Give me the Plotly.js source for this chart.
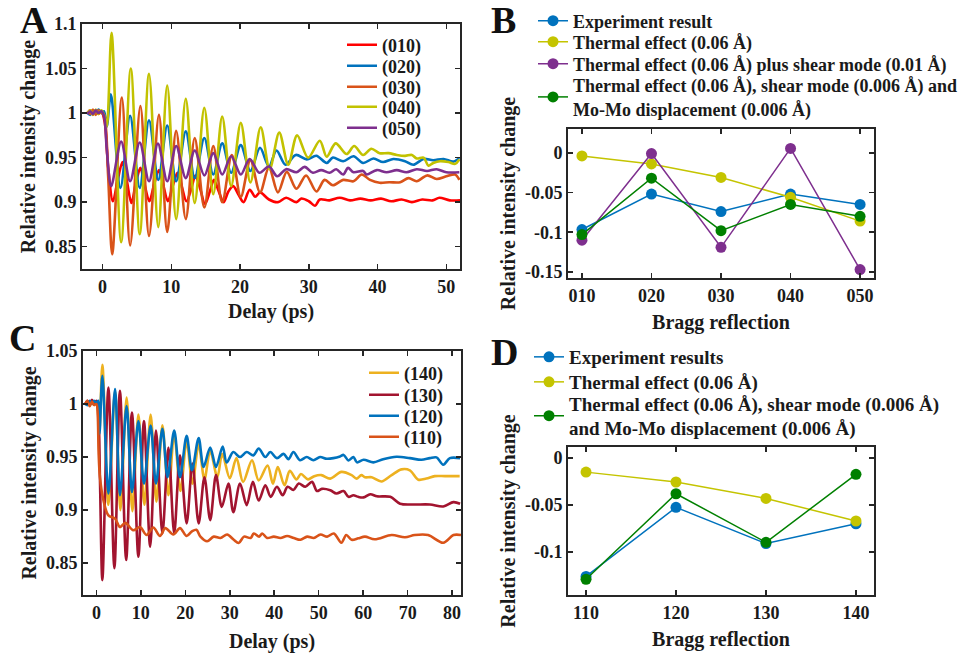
<!DOCTYPE html>
<html><head><meta charset="utf-8">
<script src="https://cdn.plot.ly/plotly-3.0.1.min.js"></script>
<style>html,body{margin:0;padding:0;background:#fff}#chart{width:960px;height:657px}</style>
</head><body><div id="chart"></div>
<script>
// ---------- Panel A: time traces [delay ps, relative intensity] ----------
const a010 = [[-2.2,1.000],[-1.8,1.003],[-1.4,0.998],[-1.0,1.003],[-0.6,0.999],[-0.2,1.002],[0.3,0.99],[0.8,0.94],[1.5,0.901],[2.2,0.925],[2.9,0.945],[3.5,0.925],[4.2,0.899],[4.8,0.92],[5.5,0.9385],[6.1,0.92],[6.8,0.901],[7.5,0.92],[8.2,0.936],[8.8,0.92],[9.5,0.901],[10.2,0.918],[10.9,0.933],[11.5,0.918],[12.2,0.901],[12.9,0.915],[13.5,0.93],[14.2,0.915],[14.9,0.898],[15.6,0.912],[16.2,0.925],[16.9,0.912],[17.6,0.9],[18.3,0.912],[19.0,0.918],[19.8,0.908],[20.5,0.9],[21.4,0.914],[22.2,0.906],[22.9,0.911],[24.2,0.903],[25.5,0.9],[26.7,0.905],[28.2,0.9],[28.9,0.904],[30.0,0.901],[30.9,0.896],[31.6,0.903],[33.0,0.902],[34.5,0.905],[36.0,0.902],[37.5,0.904],[39.0,0.902],[40.5,0.904],[42.0,0.901],[43.5,0.903],[45.0,0.900],[46.5,0.903],[48.0,0.902],[49.0,0.905],[50.5,0.902],[52.0,0.902]];
const a020 = [[-2.2,1.0],[-1.8,0.998],[-1.4,1.003],[-1.0,0.999],[-0.6,1.004],[-0.2,1.0],[0.2,1.002],[0.6,0.985],[1.2,1.021],[2.6,0.916],[4.0,0.997],[5.4,0.916],[6.75,0.992],[8.1,0.925],[9.4,0.986],[10.7,0.9235],[12.1,0.9795],[13.4,0.927],[14.8,0.972],[16.1,0.931],[17.4,0.966],[18.7,0.933],[20.1,0.964],[21.5,0.935],[22.9,0.961],[24.2,0.940],[25.3,0.958],[26.6,0.942],[28.1,0.953],[29.7,0.948],[31.1,0.952],[32.6,0.944],[33.5,0.950],[35.0,0.946],[36.5,0.9515],[37.9,0.944],[39.4,0.949],[40.8,0.945],[42.3,0.9485],[44.0,0.946],[45.2,0.942],[46.7,0.9485],[48.1,0.947],[49.6,0.9485],[51.0,0.9455],[51.9,0.9497]];
const a030 = [[-2.2,1.002],[-1.8,0.999],[-1.4,1.004],[-1.0,0.998],[-0.6,1.003],[-0.2,1.0],[0.2,0.998],[0.8,0.93],[1.4,0.8415],[2.8,1.0175],[4.0,0.8515],[5.5,1.008],[6.75,0.862],[8.2,0.998],[9.4,0.8665],[10.7,0.980],[12.1,0.881],[13.4,0.972],[14.8,0.894],[16.1,0.963],[17.4,0.900],[18.8,0.953],[20.1,0.906],[21.5,0.947],[22.9,0.911],[24.2,0.939],[25.5,0.911],[26.8,0.934],[28.2,0.915],[29.6,0.930],[31.1,0.912],[32.3,0.925],[33.5,0.919],[35.0,0.925],[36.5,0.9235],[37.7,0.931],[38.9,0.925],[40.3,0.9217],[41.7,0.9224],[43.3,0.9224],[44.5,0.927],[45.7,0.9235],[47.2,0.930],[48.6,0.926],[50.0,0.929],[51.3,0.931],[51.9,0.925]];
const a040 = [[-2.2,1.000],[-1.8,1.003],[-1.4,0.998],[-1.0,1.004],[-0.6,0.999],[-0.2,1.003],[0.2,0.998],[0.6,0.985],[1.3,1.090],[2.7,0.855],[4.1,1.050],[5.4,0.864],[6.75,1.044],[8.1,0.872],[9.4,1.031],[10.7,0.881],[12.1,1.016],[13.4,0.899],[14.8,1.006],[16.1,0.909],[17.4,0.996],[18.7,0.918],[20.1,0.989],[21.5,0.922],[23.0,0.984],[24.3,0.937],[25.7,0.978],[27.0,0.942],[28.3,0.975],[29.9,0.950],[31.6,0.969],[32.6,0.951],[33.9,0.966],[35.5,0.954],[36.6,0.963],[37.9,0.953],[39.1,0.960],[40.3,0.955],[41.6,0.955],[42.8,0.953],[44.0,0.952],[45.0,0.953],[45.7,0.949],[46.7,0.950],[47.4,0.941],[48.1,0.944],[49.1,0.946],[50.3,0.945],[51.3,0.943],[51.9,0.948]];
const a050 = [[-2.2,0.999],[-1.8,1.002],[-1.4,0.999],[-1.0,1.003],[-0.6,1.0],[-0.2,1.002],[0.2,0.997],[0.6,0.96],[1.25,0.918],[2.7,0.968],[4.0,0.9235],[5.4,0.967],[6.75,0.9235],[8.05,0.9657],[9.4,0.9235],[10.7,0.963],[12.1,0.927],[13.4,0.958],[14.8,0.930],[16.1,0.955],[17.4,0.931],[18.7,0.9515],[20.1,0.931],[21.4,0.9485],[22.8,0.933],[24.2,0.940],[25.4,0.929],[26.7,0.937],[28.2,0.9336],[29.4,0.9396],[30.6,0.933],[31.8,0.936],[33.0,0.933],[34.0,0.937],[35.0,0.931],[35.7,0.9385],[36.5,0.9336],[37.9,0.935],[38.4,0.931],[39.9,0.936],[41.3,0.9336],[42.8,0.936],[44.2,0.9336],[45.7,0.937],[47.2,0.935],[48.6,0.937],[50.0,0.9336],[51.9,0.9336]];
const aNames = ['(010)','(020)','(030)','(040)','(050)'];

// ---------- Panel C: time traces ----------
const c140 = [[-2.5,1.0],[-2.0,1.002],[-1.5,0.999],[-1.0,1.003],[-0.5,1.0],[0.0,1.002],[0.4,0.998],[0.7,0.975],[1.35,1.037],[2.7,0.905],[4.2,1.012],[5.4,0.900],[6.8,1.006],[8.1,0.899],[9.45,0.990],[10.8,0.905],[12.2,0.990],[13.5,0.908],[14.85,0.980],[16.2,0.914],[17.5,0.972],[18.9,0.918],[20.3,0.965],[21.6,0.925],[23.0,0.962],[24.3,0.929],[25.6,0.956],[27.2,0.931],[28.3,0.953],[30.0,0.930],[31.5,0.949],[33.0,0.9265],[35.0,0.947],[36.5,0.928],[38.5,0.942],[39.7,0.925],[40.8,0.9405],[42.3,0.9234],[43.5,0.937],[45.0,0.929],[46.0,0.934],[47.6,0.929],[49.0,0.932],[50.6,0.933],[52.6,0.9297],[55.1,0.936],[57.4,0.933],[58.5,0.9297],[59.6,0.933],[60.4,0.931],[61.9,0.931],[64.1,0.927],[66.4,0.933],[68.6,0.9384],[70.5,0.9375],[72.4,0.9287],[74.2,0.9297],[76.1,0.932],[78.4,0.932],[81.7,0.932]];
const c130 = [[-2.5,1.0],[-2.0,1.003],[-1.5,0.999],[-1.0,1.004],[-0.5,1.0],[0.0,1.003],[0.4,0.995],[0.8,0.93],[1.35,0.834],[2.7,1.0156],[4.05,0.8453],[5.3,1.0125],[6.7,0.853],[8.0,0.992],[9.45,0.856],[10.7,0.984],[12.1,0.8656],[13.4,0.975],[14.85,0.878],[16.2,0.959],[17.5,0.878],[18.8,0.9516],[20.3,0.8875],[21.6,0.944],[23.0,0.8875],[24.3,0.931],[25.6,0.8906],[26.9,0.933],[28.2,0.903],[29.7,0.925],[30.8,0.898],[32.3,0.925],[33.8,0.9047],[35.2,0.9266],[36.5,0.909],[38.0,0.9234],[39.2,0.9125],[40.6,0.922],[41.9,0.914],[43.0,0.922],[44.3,0.919],[45.5,0.925],[47.0,0.922],[48.5,0.9266],[49.6,0.918],[50.7,0.92],[52.6,0.9187],[54.0,0.9156],[55.6,0.918],[56.7,0.9125],[57.8,0.914],[58.9,0.9125],[60.1,0.912],[61.6,0.915],[63.1,0.913],[66.1,0.9125],[68.3,0.906],[71.3,0.9053],[75.0,0.9053],[78.0,0.9034],[80.3,0.9075],[81.8,0.906]];
const c120 = [[-2.5,1.0],[-2.0,0.999],[-1.5,1.003],[-1.0,1.0],[-0.5,1.003],[0.0,1.001],[0.4,1.003],[0.7,0.972],[1.35,1.0266],[2.7,0.9156],[4.2,1.014],[5.3,0.914],[6.8,0.998],[8.0,0.917],[9.45,0.984],[10.7,0.925],[12.2,0.9797],[13.4,0.925],[14.85,0.9766],[16.0,0.931],[17.5,0.975],[18.8,0.931],[20.3,0.970],[21.5,0.9375],[23.0,0.968],[24.1,0.9406],[25.6,0.959],[26.9,0.9406],[28.4,0.960],[29.3,0.945],[30.8,0.9547],[32.3,0.950],[33.8,0.9547],[35.3,0.9516],[36.5,0.958],[38.0,0.950],[39.1,0.9547],[40.6,0.949],[42.1,0.953],[43.2,0.948],[44.3,0.9547],[45.8,0.947],[47.3,0.950],[48.8,0.947],[50.3,0.950],[51.8,0.9484],[53.3,0.949],[54.8,0.9506],[55.6,0.952],[56.7,0.9468],[57.8,0.950],[58.6,0.945],[60.1,0.9474],[62.3,0.945],[64.5,0.948],[67.5,0.9503],[70.5,0.949],[73.1,0.9474],[75.0,0.949],[76.5,0.9497],[78.0,0.9428],[79.5,0.949],[81.8,0.949]];
const c110 = [[-2.5,1.0],[-2.0,1.003],[-1.5,0.998],[-1.0,1.002],[-0.5,0.999],[0.0,1.0],[0.3,0.99],[0.5,0.955],[0.8,0.931],[1.6,0.909],[2.7,0.895],[4.2,0.892],[5.3,0.884],[6.5,0.888],[8.3,0.881],[9.8,0.884],[11.3,0.8765],[12.8,0.8836],[14.3,0.8756],[15.5,0.883],[17.3,0.877],[18.8,0.883],[20.3,0.8756],[21.5,0.880],[22.5,0.8815],[23.4,0.875],[24.9,0.8706],[26.4,0.875],[27.9,0.8737],[29.4,0.877],[30.9,0.872],[32.0,0.869],[33.2,0.875],[34.7,0.8737],[35.4,0.878],[36.6,0.875],[37.3,0.878],[38.4,0.8737],[39.9,0.875],[41.4,0.8737],[42.9,0.8756],[44.4,0.8737],[45.9,0.872],[47.4,0.875],[48.9,0.8737],[50.4,0.877],[51.9,0.875],[53.4,0.878],[55.1,0.8692],[56.2,0.8765],[57.4,0.872],[58.9,0.8734],[60.4,0.875],[62.6,0.8725],[66.4,0.8765],[69.4,0.8744],[71.6,0.8765],[74.6,0.8765],[78.0,0.8692],[80.3,0.8765],[82.0,0.8765]];
const cNames = ['(140)','(130)','(120)','(110)'];

// ---------- Panel B ----------
const bCats = ['010','020','030','040','050'];
const bExp = [-0.0966,-0.052,-0.074,-0.052,-0.065];
const bThermal = [-0.004,-0.014,-0.031,-0.056,-0.086];
const bShear = [-0.110,-0.001,-0.119,0.0055,-0.147];
const bFull = [-0.103,-0.032,-0.098,-0.065,-0.080];
const bNames = ['Experiment result','Thermal effect (0.06 Å)','Thermal effect (0.06 Å) plus shear mode (0.01 Å)','Thermal effect (0.06 Å), shear mode (0.006 Å) and<br>Mo-Mo displacement (0.006 Å)'];

// ---------- Panel D ----------
const dCats = ['110','120','130','140'];
const dExp = [-0.126,-0.0525,-0.091,-0.070];
const dThermal = [-0.015,-0.0255,-0.043,-0.067];
const dFull = [-0.129,-0.038,-0.0897,-0.0174];
const dNames = ['Experiment results','Thermal effect (0.06 Å)','Thermal effect (0.06 Å), shear mode (0.006 Å)<br>and Mo-Mo displacement (0.006 Å)'];

const FONT = 'Liberation Serif, Times New Roman, serif';
const INK = '#1a1a1a';
let legN = 0;
const nextLeg = () => { legN += 1; return legN === 1 ? 'legend' : 'legend' + legN; };
const line = (pairs, name, color, xa, ya) => ({
  type:'scatter', mode:'lines', name, x: pairs.map(p=>p[0]), y: pairs.map(p=>p[1]),
  xaxis:xa, yaxis:ya, legend:nextLeg(), line:{color, width:2.6, shape:'spline', smoothing:0.9}
});
const pts = (cats, vals, name, color, xa, ya) => ({
  type:'scatter', mode:'lines+markers', name, x:cats, y:vals, xaxis:xa, yaxis:ya, legend:nextLeg(),
  line:{color, width:1.5}, marker:{color, size:11}
});

const data = [
  line(a010, aNames[0], '#FF0000', 'x', 'y'),
  line(a020, aNames[1], '#0072BD', 'x', 'y'),
  line(a030, aNames[2], '#D95319', 'x', 'y'),
  line(a040, aNames[3], '#C2C200', 'x', 'y'),
  line(a050, aNames[4], '#7E2F8E', 'x', 'y'),
  pts(bCats, bExp, bNames[0], '#0072BD', 'x2', 'y2'),
  pts(bCats, bThermal, bNames[1], '#C4C400', 'x2', 'y2'),
  pts(bCats, bShear, bNames[2], '#7E2F8E', 'x2', 'y2'),
  pts(bCats, bFull, bNames[3], '#008000', 'x2', 'y2'),
  line(c140, cNames[0], '#EDB120', 'x3', 'y3'),
  line(c130, cNames[1], '#A2142F', 'x3', 'y3'),
  line(c120, cNames[2], '#0072BD', 'x3', 'y3'),
  line(c110, cNames[3], '#D95319', 'x3', 'y3'),
  pts(dCats, dExp, dNames[0], '#0072BD', 'x4', 'y4'),
  pts(dCats, dThermal, dNames[1], '#C4C400', 'x4', 'y4'),
  pts(dCats, dFull, dNames[2], '#008000', 'x4', 'y4')
];

const tf = {family:FONT, size:18, color:INK, weight:700};
const ttl = {family:FONT, size:20, color:INK, weight:700};
const ax = (o) => Object.assign({
  showline:true, mirror:'allticks', linecolor:'#262626', linewidth:2,
  ticks:'inside', ticklen:5, tickwidth:1.5, tickcolor:'#262626',
  showgrid:false, zeroline:false, tickfont:tf, fixedrange:true, automargin:false
}, o);
const legAt = (xpx, ypx, size) => ({x:xpx/960, y:1-ypx/657, xref:'paper', yref:'paper', xanchor:'left', yanchor:'middle',
  bgcolor:'rgba(255,255,255,0)', borderwidth:0, font:{family:FONT, size, color:INK, weight:700},
  tracegroupgap:0, itemwidth:30});

// legend placements (pixel x of item start, pixel y of row centre)
const legendSpots = [
  [342,45,18],[342,66,18],[342,87,18],[342,107,18],[342,128,18],
  [533,21,18],[533,42,18],[533,64,18],[533,97,18],
  [364,373,18],[364,395,18],[364,416,18],[364,437,18],
  [529,357,19],[529,382,19],[529,416,19]
];

const layout = {
  width:960, height:657, margin:{l:0,r:0,t:0,b:0,autoexpand:false},
  paper_bgcolor:'#fff', plot_bgcolor:'#fff', showlegend:true,
  font:{family:FONT, color:INK, weight:700},
  xaxis: ax({domain:[0.0854,0.4792], anchor:'y', range:[-3,52], tickvals:[0,10,20,30,40,50],
    title:{text:'Delay (ps)', font:ttl, standoff:8}}),
  yaxis: ax({domain:[0.5906,0.9635], anchor:'x', range:[0.825,1.1], tickvals:[0.85,0.9,0.95,1,1.05,1.1],
    ticktext:['0.85','0.9','0.95','1','1.05','1.1'], title:{text:'Relative intensity change', font:ttl, standoff:4}}),
  xaxis2: ax({domain:[0.5917,0.9104], anchor:'y2', type:'category', range:[-0.2,4.2],
    title:{text:'Bragg reflection', font:ttl, standoff:10}}),
  yaxis2: ax({domain:[0.5769,0.8037], anchor:'x2', range:[-0.1576,0.03], tickvals:[0,-0.05,-0.1,-0.15],
    ticktext:['0','-0.05','-0.1','-0.15'], title:{text:'Relative intensity change', font:ttl, standoff:4}}),
  xaxis3: ax({domain:[0.0865,0.4802], anchor:'y3', range:[-3,82], tickvals:[0,10,20,30,40,50,60,70,80],
    title:{text:'Delay (ps)', font:ttl, standoff:12}}),
  yaxis3: ax({domain:[0.0944,0.4658], anchor:'x3', range:[0.82,1.05], tickvals:[0.85,0.9,0.95,1,1.05],
    ticktext:['0.85','0.9','0.95','1','1.05'], title:{text:'Relative intensity change', font:ttl, standoff:4}}),
  xaxis4: ax({domain:[0.5917,0.9104], anchor:'y4', type:'category', range:[-0.2,3.2],
    title:{text:'Bragg reflection', font:ttl, standoff:10}}),
  yaxis4: ax({domain:[0.0944,0.3196], anchor:'x4', range:[-0.1457,0.0117], tickvals:[0,-0.05,-0.1],
    ticktext:['0','-0.05','-0.1'], title:{text:'Relative intensity change', font:ttl, standoff:4}}),
  annotations: [
    ['A',18,20],['B',489,20],['C',7,338],['D',489,352]
  ].map(([t,x,y]) => ({text:t, x:x/960, y:1-y/657, xref:'paper', yref:'paper', xanchor:'left', yanchor:'middle',
     showarrow:false, font:{family:FONT, size:38, color:'#111', weight:700}}))
};
legendSpots.forEach((s, i) => { layout[i === 0 ? 'legend' : 'legend' + (i + 1)] = legAt(s[0], s[1], s[2]); });

Plotly.newPlot('chart', data, layout, {displayModeBar:false, staticPlot:true});
</script></body></html>
